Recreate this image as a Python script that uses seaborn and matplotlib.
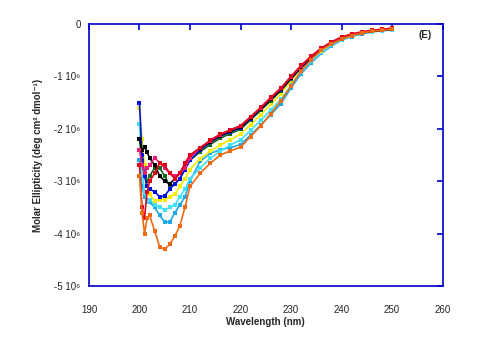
import numpy as np
import pandas as pd
import matplotlib
matplotlib.use("Agg")
import matplotlib.pyplot as plt
import seaborn as sns

# wavelength grid (nm) shared by all spectra
wavelength = [200, 200.5, 201, 201.5, 202, 203, 204, 205, 206, 207, 208, 209, 210,
              212, 214, 216, 218, 220, 222, 224, 226, 228, 230, 232, 234, 236,
              238, 240, 242, 244, 246, 248, 250]

# molar ellipticity in units of 10^6 deg cm2 dmol-1
deep_sky = [-2.6, -3.1, -3.3, -3.35, -3.4, -3.5, -3.65, -3.78, -3.78, -3.6, -3.45, -3.3, -3.0,
            -2.62, -2.47, -2.4, -2.36, -2.3, -2.12, -1.93, -1.73, -1.52, -1.22, -0.95, -0.74,
            -0.56, -0.42, -0.31, -0.24, -0.19, -0.15, -0.13, -0.11]
light_cyan = [-1.9, -2.8, -3.2, -3.4, -3.35, -3.45, -3.5, -3.55, -3.5, -3.45, -3.3, -3.15, -2.95,
              -2.75, -2.56, -2.43, -2.31, -2.21, -2.03, -1.84, -1.64, -1.44, -1.17, -0.92, -0.71,
              -0.54, -0.4, -0.3, -0.23, -0.18, -0.15, -0.13, -0.11]
yellow = [-1.6, -2.2, -2.7, -3.0, -3.25, -3.38, -3.35, -3.35, -3.3, -3.25, -3.1, -2.95, -2.78,
          -2.57, -2.43, -2.31, -2.21, -2.1, -1.92, -1.73, -1.53, -1.33, -1.08, -0.86, -0.67,
          -0.51, -0.38, -0.28, -0.22, -0.17, -0.14, -0.12, -0.1]
green = [-2.2, -2.6, -2.9, -3.0, -2.9, -2.75, -2.75, -2.9, -3.1, -3.05, -2.95, -2.75, -2.6,
         -2.44, -2.3, -2.18, -2.09, -2.01, -1.83, -1.65, -1.46, -1.27, -1.05, -0.84, -0.65,
         -0.49, -0.37, -0.27, -0.21, -0.17, -0.14, -0.12, -0.1]
blue = [-1.5, -2.5, -2.9, -3.1, -3.15, -3.2, -3.3, -3.28, -3.15, -3.05, -2.95, -2.78, -2.6,
        -2.4, -2.26, -2.14, -2.06, -1.98, -1.81, -1.63, -1.44, -1.26, -1.04, -0.83, -0.64,
        -0.48, -0.36, -0.27, -0.21, -0.17, -0.14, -0.12, -0.1]
black = [-2.2, -2.4, -2.35, -2.45, -2.55, -2.7, -2.9, -3.0, -3.05, -2.95, -2.85, -2.7, -2.52,
         -2.38, -2.25, -2.13, -2.05, -1.97, -1.8, -1.62, -1.44, -1.25, -1.03, -0.82, -0.64,
         -0.48, -0.36, -0.27, -0.21, -0.17, -0.14, -0.12, -0.1]
pink = [-2.4, -2.7, -2.85, -2.75, -2.7, -2.55, -2.65, -2.75, -2.85, -2.9, -2.85, -2.75, -2.55,
        -2.37, -2.23, -2.11, -2.03, -1.95, -1.78, -1.6, -1.41, -1.23, -1.01, -0.8, -0.62,
        -0.47, -0.35, -0.26, -0.2, -0.16, -0.13, -0.11, -0.09]
red = [-2.7, -3.5, -3.7, -3.2, -3.0, -2.85, -2.65, -2.7, -2.85, -2.95, -2.85, -2.65, -2.5,
       -2.36, -2.22, -2.1, -2.02, -1.94, -1.77, -1.59, -1.4, -1.22, -1.0, -0.79, -0.61,
       -0.46, -0.34, -0.25, -0.19, -0.15, -0.12, -0.1, -0.08]
orange = [-2.9, -3.6, -4.0, -3.7, -3.65, -3.95, -4.25, -4.3, -4.2, -4.05, -3.85, -3.5, -3.1,
          -2.85, -2.66, -2.5, -2.42, -2.35, -2.15, -1.94, -1.71, -1.47, -1.18, -0.9, -0.68,
          -0.5, -0.38, -0.29, -0.22, -0.17, -0.14, -0.12, -0.1]

series = {
    "deep_sky": (deep_sky, "#1EA8E6"),
    "light_cyan": (light_cyan, "#40E0F8"),
    "yellow": (yellow, "#F5EB00"),
    "green": (green, "#0E6A1E"),
    "blue": (blue, "#0010D8"),
    "black": (black, "#000000"),
    "pink": (pink, "#EC1A78"),
    "red": (red, "#E2001A"),
    "orange": (orange, "#F06A14"),
}

ytick_vals = [0, -1, -2, -3, -4, -5]
ytick_labels = ["0", "-1 10\u2076", "-2 10\u2076", "-3 10\u2076", "-4 10\u2076", "-5 10\u2076"]
xtick_vals = [190, 200, 210, 220, 230, 240, 250, 260]

sns.set_style("white")
plt.rcParams["font.family"] = ["Liberation Sans", "DejaVu Sans"]

fig = plt.figure(figsize=(4.82, 3.56), dpi=100)
ax = fig.add_axes([0.1846, 0.1966, 0.7336, 0.736])

for name, (vals, col) in series.items():
    sns.lineplot(x=wavelength, y=vals, ax=ax, color=col, linewidth=1.2,
                 marker="s", markersize=2.3, markeredgewidth=0, sort=False)

ax.set_xlim(190, 260)
ax.set_ylim(-5, 0)
ax.set_xticks(xtick_vals)
ax.set_xticklabels([str(v) for v in xtick_vals])
ax.set_yticks(ytick_vals)
ax.set_yticklabels(ytick_labels)

blue_ax = "#0000CC"
for sp in ax.spines.values():
    sp.set_color(blue_ax)
    sp.set_linewidth(1.2)
    sp.set_visible(True)
ax.tick_params(axis="both", which="both", direction="in", color=blue_ax,
               length=4, width=1.2, top=True, right=True,
               labelsize=7, labelcolor="#222222")
ax.tick_params(axis="x", pad=14)
ax.tick_params(axis="y", pad=6)

ax.set_xlabel("Wavelength (nm)", fontsize=7, fontweight="bold")
ax.xaxis.set_label_coords(0.5, -0.12)
ax.set_ylabel("Molar Ellipticity (deg cm\u00b2 dmol\u207b\u00b9)", fontsize=7,
              fontweight="bold")
ax.yaxis.set_label_coords(-0.13, 0.5)

ax.text(0.95, 0.958, "(E)", transform=ax.transAxes, fontsize=7,
        fontweight="bold", ha="center", va="center")

fig.savefig("out.png", dpi=100)
